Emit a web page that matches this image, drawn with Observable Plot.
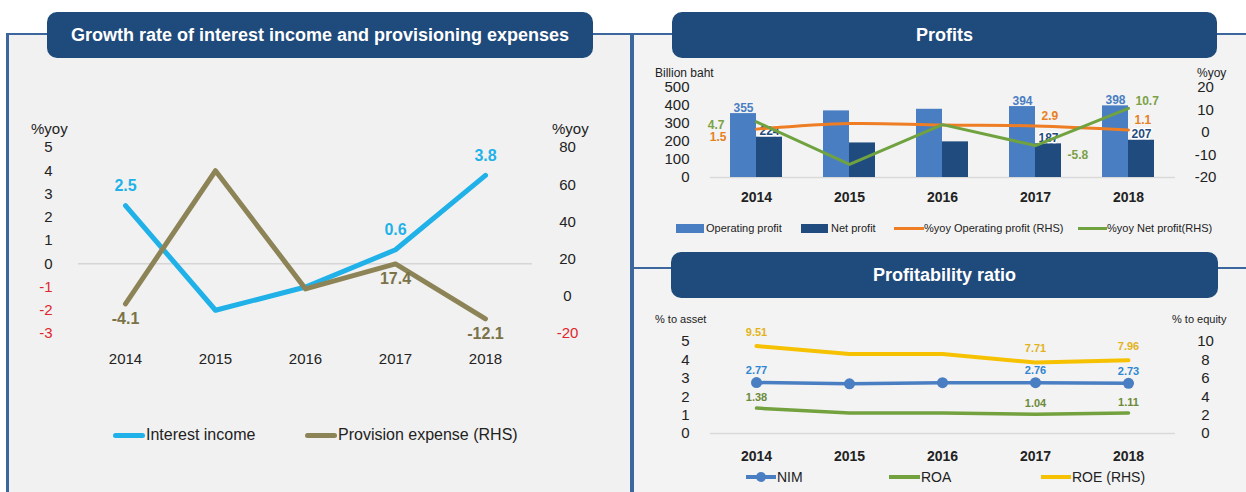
<!DOCTYPE html>
<html>
<head>
<meta charset="utf-8">
<script src="https://cdn.jsdelivr.net/npm/d3@7"></script>
<script src="https://cdn.jsdelivr.net/npm/@observablehq/plot@0.6"></script>
<style>
  body { margin: 0; background: #fff; }
  #root { position: relative; width: 1246px; height: 492px; overflow: hidden; background: #fff;
          font-family: "Liberation Sans", Arial, sans-serif; color: #222; }
  .abs { position: absolute; }
  .pill { position: absolute; background: #1f4b7c; border-radius: 10px; color: #fff; font-weight: bold;
          font-size: 18px; display: flex; align-items: center; justify-content: center; }
  .txt { position: absolute; white-space: nowrap; line-height: 1; transform: translateY(-50%); }
  svg { position: absolute; }
</style>
</head>
<body>
<div id="root"></div>
<script>
// ---------------- data ----------------
const years = ["2014", "2015", "2016", "2017", "2018"];

// Growth rate of interest income and provisioning expenses (%yoy)
const interestIncome = [2.5, -2.0, -1.0, 0.6, 3.8];
const provisionExpense = [-4.1, 67.5, 4.0, 17.4, -12.1];
const growthLeftTicks = [5, 4, 3, 2, 1, 0, -1, -2, -3];
const growthRightTicks = [80, 60, 40, 20, 0, -20];
const growthLabelYears = ["2014", "2017", "2018"];

// Profits (billion baht, %yoy)
const operatingProfit = [355, 370, 379, 394, 398];
const netProfit = [224, 192, 198, 187, 207];
const operatingProfitYoy = [1.5, 4.0, 3.3, 2.9, 1.1];
const netProfitYoy = [4.7, -14.2, 3.5, -5.8, 10.7];
const profitLeftTicks = [0, 100, 200, 300, 400, 500];
const profitRightTicks = [-20, -10, 0, 10, 20];
const profitLabelYears = ["2014", "2017", "2018"];

// Profitability ratio
const nim = [2.77, 2.70, 2.76, 2.76, 2.73];
const roa = [1.38, 1.12, 1.11, 1.04, 1.11];
const roe = [9.51, 8.65, 8.65, 7.71, 7.96];
const ratioLeftTicks = [0, 1, 2, 3, 4, 5];
const ratioRightTicks = [0, 2, 4, 6, 8, 10];
const ratioLabelYears = ["2014", "2017", "2018"];

// ---------------- helpers ----------------
const FONT = "'Liberation Sans', Arial, sans-serif";
const root = document.getElementById("root");
function box(left, top, width, height, bg, extra = {}) {
  const d = document.createElement("div");
  d.className = "abs";
  Object.assign(d.style, {left: left + "px", top: top + "px", width: width + "px", height: height + "px", background: bg}, extra);
  root.appendChild(d);
  return d;
}
function pill(left, top, width, height, text) {
  const d = document.createElement("div");
  d.className = "pill";
  Object.assign(d.style, {left: left + "px", top: top + "px", width: width + "px", height: height + "px"});
  d.textContent = text;
  root.appendChild(d);
}
function label(text, left, cy, size, opts = {}) {
  const d = document.createElement("div");
  d.className = "txt";
  Object.assign(d.style, {left: left + "px", top: cy + "px", fontSize: size + "px"}, opts);
  d.textContent = text;
  root.appendChild(d);
  return d;
}
function place(svg, left, top) {
  svg.style.left = left + "px";
  svg.style.top = top + "px";
  root.appendChild(svg);
}
const style = {background: "transparent", fontFamily: FONT, color: "#222", overflow: "visible"};
const plain = d => String(d);   // hyphen-minus, as in the reference

// ---------------- frames ----------------
box(9, 35, 621, 457, "#f1f1f1");
box(634, 35, 612, 457, "#f3f3f3");
box(7, 33, 1239, 2, "#3b679e");
box(6, 33, 3, 459, "#3b679e");
box(630, 33, 4, 459, "#3b679e");
box(630, 267, 616, 2, "#3b679e");
pill(47, 12, 546, 46, "Growth rate of interest income and provisioning expenses");
pill(672, 12, 545, 46, "Profits");
pill(671, 252, 547, 46, "Profitability ratio");

// ---------------- chart 1 ----------------
const growth = years.map((year, i) => ({year, income: interestIncome[i], provision: provisionExpense[i]}));
const growthLab = growth.filter(d => growthLabelYears.includes(d.year));
const c1 = {width: 632, height: 270, marginTop: 37, marginBottom: 47, marginLeft: 78, marginRight: 100, style};
const x1 = {type: "point", domain: years, padding: 0.52};
const RED = "#e0262b";

const p1a = Plot.plot({
  ...c1, x: x1, y: {domain: [-3, 5]},
  marks: [
    Plot.ruleY([0], {stroke: "#d6d6d6", strokeWidth: 1.5}),
    Plot.line(growth, {x: "year", y: "income", stroke: "#1fb1e8", strokeWidth: 5}),
    Plot.text(growthLab, {x: "year", y: "income", text: d => d.income.toFixed(1), dy: -20,
      fill: "#1fb1e8", fontWeight: "bold", fontSize: 16}),
    Plot.axisY(growthLeftTicks.filter(t => t >= 0), {anchor: "left", tickSize: 0, tickPadding: 26, fontSize: 15, label: null, color: "#222", tickFormat: plain}),
    Plot.axisY(growthLeftTicks.filter(t => t < 0), {anchor: "left", tickSize: 0, tickPadding: 26, fontSize: 15, label: null, color: RED, tickFormat: plain}),
    Plot.axisX({tickSize: 0, tickPadding: 20, fontSize: 15, label: null})
  ]
});
place(p1a, 0, 110);

const p1b = Plot.plot({
  ...c1, x: {...x1, axis: null}, y: {domain: [-20, 80]},
  marks: [
    Plot.line(growth, {x: "year", y: "provision", stroke: "#8c8457", strokeWidth: 5}),
    Plot.text(growthLab, {x: "year", y: "provision", text: d => d.provision.toFixed(1), dy: 15,
      fill: "#7a7348", fontWeight: "bold", fontSize: 16}),
    Plot.axisY(growthRightTicks.filter(t => t >= 0), {anchor: "right", tickSize: 0, tickPadding: 35, textAnchor: "middle", fontSize: 15, label: null, color: "#222", tickFormat: plain}),
    Plot.axisY(growthRightTicks.filter(t => t < 0), {anchor: "right", tickSize: 0, tickPadding: 35, textAnchor: "middle", fontSize: 15, label: null, color: RED, tickFormat: plain})
  ]
});
place(p1b, 0, 110);

label("%yoy", 31, 128, 15);
label("%yoy", 552, 128, 15);
box(113, 433, 32, 5, "#1fb1e8", {borderRadius: "3px"});
label("Interest income", 146, 435, 16);
box(305, 433, 32, 5, "#8c8457", {borderRadius: "3px"});
label("Provision expense (RHS)", 338, 435, 16);

// ---------------- chart 2 ----------------
const profits = years.map((year, i) => ({year, op: operatingProfit[i], net: netProfit[i],
  opYoy: operatingProfitYoy[i], netYoy: netProfitYoy[i]}));
const profitLab = profits.filter(d => profitLabelYears.includes(d.year));
const c2 = {width: 612, height: 190, marginTop: 27, marginBottom: 73, marginLeft: 76, marginRight: 71, style};
const x2 = {type: "band", domain: years, paddingInner: 0.44, paddingOuter: 0.22};
const LB = "#4a7ec2", DB = "#1f4b7f", OR = "#ee7d24", GR = "#70a340";

const p2a = Plot.plot({
  ...c2, x: x2, y: {domain: [0, 500]},
  marks: [
    Plot.ruleY([0], {stroke: "#d9d9d9", strokeWidth: 1.5}),
    Plot.barY(profits, {x: "year", y: "op", fill: LB, insetRight: 26}),
    Plot.barY(profits, {x: "year", y: "net", fill: DB, insetLeft: 26}),
    Plot.text(profitLab, {x: "year", y: "op", text: d => String(d.op), dx: -13, dy: -2, lineAnchor: "bottom",
      fill: LB, fontWeight: "bold", fontSize: 12}),
    Plot.text(profitLab, {x: "year", y: "net", text: d => String(d.net), dx: 13, dy: -2, lineAnchor: "bottom",
      fill: DB, stroke: "#ffffff", strokeWidth: 2.5, paintOrder: "stroke", fontWeight: "bold", fontSize: 12}),
    Plot.axisY(profitLeftTicks, {anchor: "left", tickSize: 0, tickPadding: 21, fontSize: 15, label: null, tickFormat: plain}),
    Plot.axisX({tickSize: 0, tickPadding: 15, fontSize: 14, fontWeight: "bold", label: null})
  ]
});
place(p2a, 634, 60);

const yoyText = (k) => (d) => d[k].toFixed(1);
const p2b = Plot.plot({
  ...c2, x: {...x2, axis: null}, y: {domain: [-20, 20]},
  marks: [
    Plot.line(profits, {x: "year", y: "opYoy", stroke: OR, strokeWidth: 3, curve: "catmull-rom"}),
    Plot.line(profits, {x: "year", y: "netYoy", stroke: GR, strokeWidth: 3}),
    Plot.text(profitLab.filter(d => d.year === "2014"), {x: "year", y: "opYoy", text: yoyText("opYoy"),
      textAnchor: "end", dx: -30, dy: 8, fill: "#e8801f", fontWeight: "bold", fontSize: 12}),
    Plot.text(profitLab.filter(d => d.year !== "2014"), {x: "year", y: "opYoy", text: yoyText("opYoy"),
      textAnchor: "start", dx: 6, dy: -10, fill: "#e8801f", fontWeight: "bold", fontSize: 12}),
    Plot.text(profitLab.filter(d => d.year === "2014"), {x: "year", y: "netYoy", text: yoyText("netYoy"),
      textAnchor: "end", dx: -32, dy: 3, fill: "#7ba146", fontWeight: "bold", fontSize: 12}),
    Plot.text(profitLab.filter(d => d.year === "2017"), {x: "year", y: "netYoy", text: yoyText("netYoy"),
      textAnchor: "start", dx: 32, dy: 10, fill: "#7ba146", fontWeight: "bold", fontSize: 12}),
    Plot.text(profitLab.filter(d => d.year === "2018"), {x: "year", y: "netYoy", text: yoyText("netYoy"),
      textAnchor: "start", dx: 7, dy: -7, fill: "#7ba146", fontWeight: "bold", fontSize: 12}),
    Plot.axisY(profitRightTicks, {anchor: "right", tickSize: 0, tickPadding: 30, textAnchor: "middle", fontSize: 15, label: null, tickFormat: plain})
  ]
});
place(p2b, 634, 60);

label("Billion baht", 655, 73, 12);
label("%yoy", 1197, 73, 12);
box(676, 224, 28, 9, LB);
label("Operating profit", 706, 228, 11);
box(801, 224, 27, 9, DB);
label("Net profit", 831, 228, 11);
box(894, 227, 30, 3, OR);
label("%yoy Operating profit (RHS)", 924, 228, 11);
box(1078, 227, 29, 3, GR);
label("%yoy Net profit(RHS)", 1107, 228, 11);

// ---------------- chart 3 ----------------
const ratio = years.map((year, i) => ({year, nim: nim[i], roa: roa[i], roe: roe[i]}));
const ratioLab = ratio.filter(d => ratioLabelYears.includes(d.year));
const c3 = {width: 612, height: 172, marginTop: 21, marginBottom: 59, marginLeft: 76, marginRight: 71, style};
const NIMC = "#4a7ec2", ROAC = "#72a13e", ROEC = "#f6c100";

const p3a = Plot.plot({
  ...c3, x: x2, y: {domain: [0, 5]},
  marks: [
    Plot.ruleY([0], {stroke: "#d9d9d9", strokeWidth: 1.5}),
    Plot.line(ratio, {x: "year", y: "roa", stroke: ROAC, strokeWidth: 3.5}),
    Plot.line(ratio, {x: "year", y: "nim", stroke: NIMC, strokeWidth: 3.5}),
    Plot.dot(ratio, {x: "year", y: "nim", r: 5.5, fill: NIMC}),
    Plot.text(ratioLab, {x: "year", y: "nim", text: d => d.nim.toFixed(2), dy: -12,
      fill: "#2f86d0", fontWeight: "bold", fontSize: 11}),
    Plot.text(ratioLab, {x: "year", y: "roa", text: d => d.roa.toFixed(2), dy: -11,
      fill: "#6b8a3a", fontWeight: "bold", fontSize: 11}),
    Plot.axisY(ratioLeftTicks, {anchor: "left", tickSize: 0, tickPadding: 21, fontSize: 15, label: null, tickFormat: plain}),
    Plot.axisX({tickSize: 0, tickPadding: 18, fontSize: 14, fontWeight: "bold", label: null})
  ]
});
place(p3a, 634, 320);

const p3b = Plot.plot({
  ...c3, x: {...x2, axis: null}, y: {domain: [0, 10]},
  marks: [
    Plot.line(ratio, {x: "year", y: "roe", stroke: ROEC, strokeWidth: 4}),
    Plot.text(ratioLab, {x: "year", y: "roe", text: d => d.roe.toFixed(2), dy: -14,
      fill: "#e3b21a", fontWeight: "bold", fontSize: 11}),
    Plot.axisY(ratioRightTicks, {anchor: "right", tickSize: 0, tickPadding: 30, textAnchor: "middle", fontSize: 15, label: null, tickFormat: plain})
  ]
});
place(p3b, 634, 320);

label("% to asset", 655, 319, 11);
label("% to equity", 1172, 319, 11);
box(746, 475, 30, 4, NIMC);
box(756, 472, 10, 10, NIMC, {borderRadius: "50%"});
label("NIM", 777, 477, 14);
box(889, 475, 31, 4, ROAC);
label("ROA", 921, 477, 14);
box(1041, 475, 30, 4, ROEC);
label("ROE (RHS)", 1072, 477, 14);
</script>
</body>
</html>
